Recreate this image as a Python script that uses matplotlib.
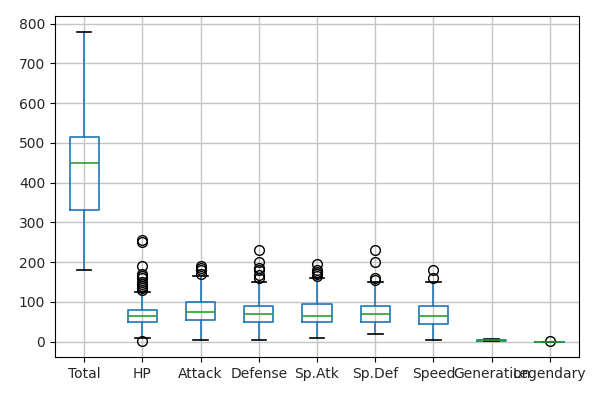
import matplotlib
matplotlib.use("Agg")
import matplotlib.pyplot as plt

columns = ["Total", "HP", "Attack", "Defense", "Sp.Atk", "Sp.Def", "Speed",
           "Generation", "Legendary"]
q1      = [330, 50, 55, 50, 49.75, 50, 45, 2, 0]
median  = [450, 65, 75, 70, 65, 70, 65, 3, 0]
q3      = [515, 80, 100, 90, 95, 90, 90, 5, 0]
wlow    = [180, 10, 5, 5, 10, 20, 5, 1, 0]
whigh   = [780, 125, 165, 150, 160, 150, 150, 6, 0]
fliers  = [
    [],
    [1, 130, 135, 140, 144, 150, 160, 165, 170, 190, 250, 255],
    [170, 180, 185, 190],
    [160, 168, 180, 184, 200, 230],
    [165, 170, 175, 180, 194],
    [154, 160, 200, 230],
    [160, 180],
    [],
    [1],
]

stats = []
for i, name in enumerate(columns):
    stats.append({"label": name, "q1": q1[i], "med": median[i], "q3": q3[i],
                  "whislo": wlow[i], "whishi": whigh[i], "fliers": fliers[i]})

fig = plt.figure(figsize=(6.06, 3.94), dpi=100)
ax = fig.add_axes([55 / 606, 1 - 357 / 394, 524 / 606, 341 / 394])

lw = 1.2
ax.bxp(stats,
       boxprops=dict(color="#1f77b4", linewidth=lw),
       whiskerprops=dict(color="#1f77b4", linewidth=lw),
       medianprops=dict(color="#2ca02c", linewidth=lw),
       capprops=dict(color="black", linewidth=lw),
       flierprops=dict(marker="o", markerfacecolor="none",
                       markeredgecolor="black", markersize=7))
ax.grid(True, color="#c4c4c4", linewidth=1.0)
ax.set_axisbelow(True)
ax.set_ylim(-39, 819)
ax.set_yticks(range(0, 801, 100))
ax.tick_params(labelsize=10, labelcolor="#262626")

fig.savefig("out.png", dpi=100)
